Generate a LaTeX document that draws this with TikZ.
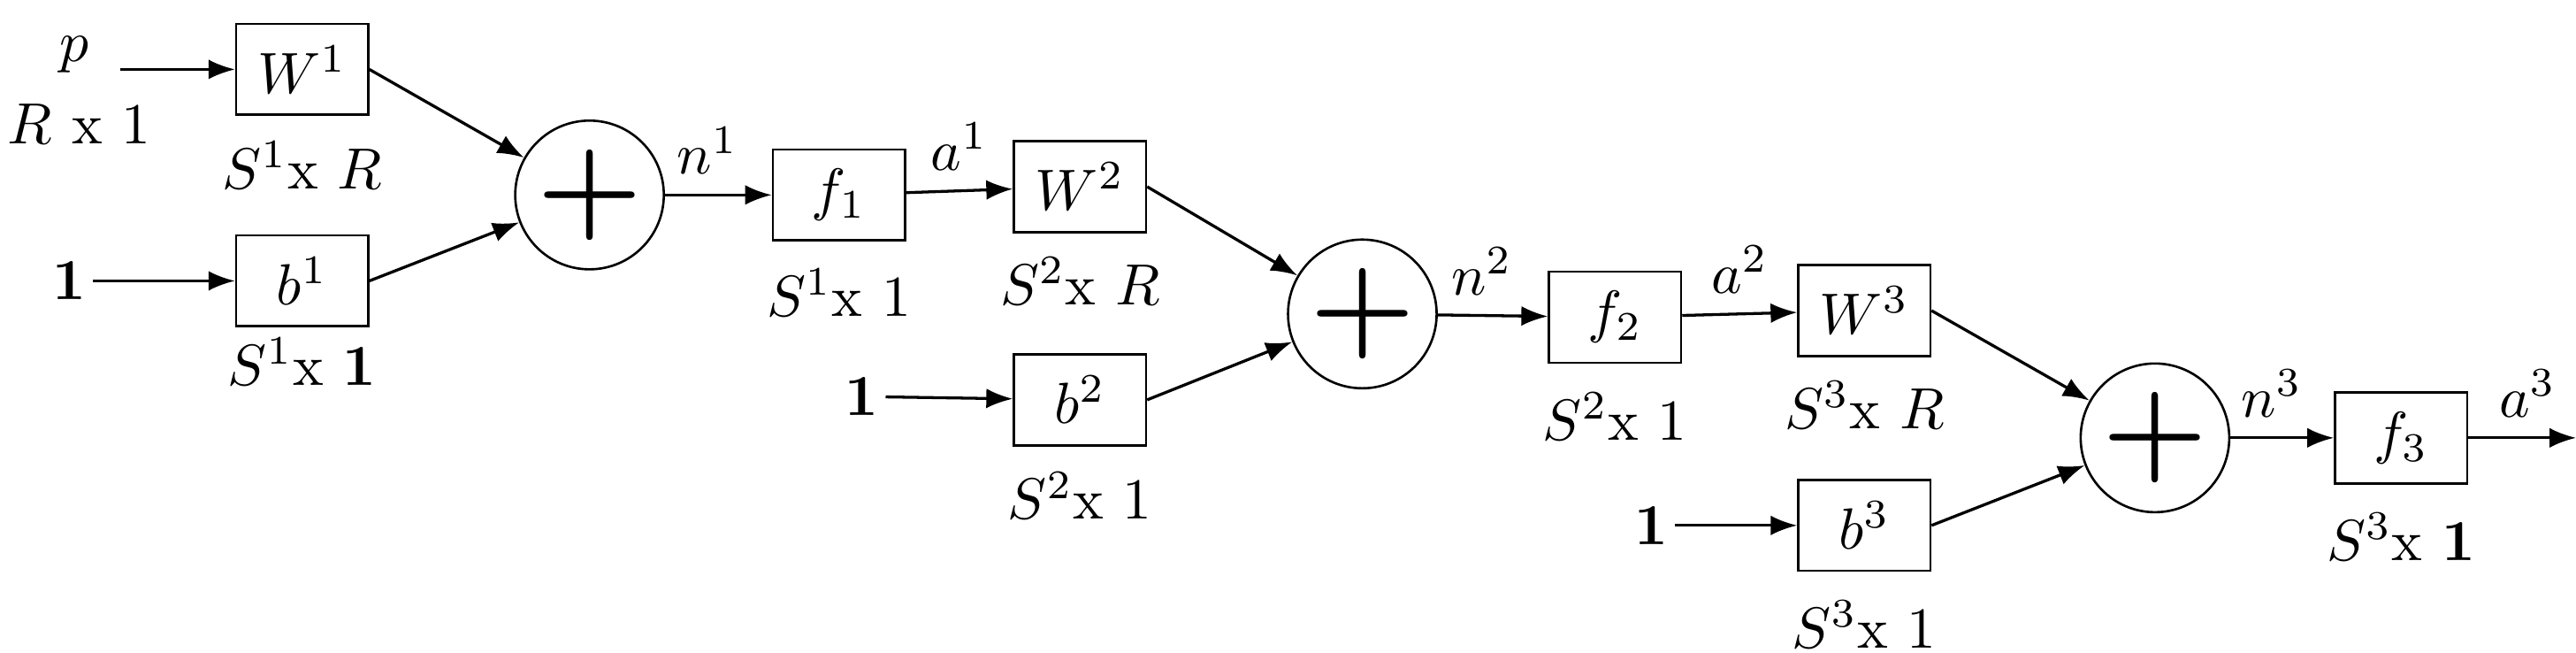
\documentclass[tikz,border=0pt]{standalone}
\usetikzlibrary{arrows.meta}
\begin{document}
\begin{tikzpicture}[
    blk/.style={draw, minimum width=0.8cm, minimum height=0.55cm, inner sep=0pt},
    sum/.style={draw, circle, minimum size=0.9cm, inner sep=0pt, font=\huge\bfseries},
    con/.style={-{Latex[length=1.6mm,width=1.2mm]}, line width=0.5pt},
    lbl/.style={inner sep=1pt}
]
    \useasboundingbox (0,0) rectangle (15.6,3.95);
    % layer 1
    \node[lbl] (p) at (0.45,3.62) {$p$};
    \node[lbl] at (0.48,3.2) {$R$ x 1};
    \node[blk] (W1) at (1.83,3.53) {$W^1$};
    \node[lbl] at (1.83,2.95) {$S^1$x $R$};
    \node[lbl] (i1) at (0.42,2.25) {\textbf{1}};
    \node[blk] (b1) at (1.83,2.25) {$b^1$};
    \node[lbl] at (1.83,1.76) {$S^1$x \textbf{1}};
    \node[sum] (s1) at (3.57,2.77) {+};
    \node[blk] (f1) at (5.08,2.77) {$f_1$};
    \node[lbl] at (5.08,2.18) {$S^1$x 1};
    % layer 2
    \node[blk] (W2) at (6.54,2.82) {$W^2$};
    \node[lbl] at (6.54,2.25) {$S^2$x $R$};
    \node[lbl] (i2) at (5.22,1.55) {\textbf{1}};
    \node[blk] (b2) at (6.54,1.53) {$b^2$};
    \node[lbl] at (6.54,0.95) {$S^2$x 1};
    \node[sum] (s2) at (8.25,2.05) {+};
    \node[blk] (f2) at (9.78,2.03) {$f_2$};
    \node[lbl] at (9.78,1.43) {$S^2$x 1};
    % layer 3
    \node[blk] (W3) at (11.29,2.07) {$W^3$};
    \node[lbl] at (11.29,1.5) {$S^3$x $R$};
    \node[lbl] (i3) at (10.0,0.77) {\textbf{1}};
    \node[blk] (b3) at (11.29,0.77) {$b^3$};
    \node[lbl] at (11.29,0.17) {$S^3$x 1};
    \node[sum] (s3) at (13.05,1.3) {+};
    \node[blk] (f3) at (14.54,1.3) {$f_3$};
    \node[lbl] at (14.54,0.7) {$S^3$x \textbf{1}};
    \coordinate (out) at (15.6,1.3);
    % connectors
    \draw[con] ([xshift=1.5mm]p.east |- W1.west) -- (W1);
    \draw[con] (i1) -- (b1);
    \draw[con] (W1.east) -- (s1);
    \draw[con] (b1.east) -- (s1);
    \draw[con] (s1) -- node[above, pos=0.4] {$n^1$} (f1);
    \draw[con] (f1) -- node[above] {$a^1$} (W2);
    \draw[con] (i2) -- (b2);
    \draw[con] (W2.east) -- (s2);
    \draw[con] (b2.east) -- (s2);
    \draw[con] (s2) -- node[above, pos=0.4] {$n^2$} (f2);
    \draw[con] (f2) -- node[above] {$a^2$} (W3);
    \draw[con] (i3) -- (b3);
    \draw[con] (W3.east) -- (s3);
    \draw[con] (b3.east) -- (s3);
    \draw[con] (s3) -- node[above, pos=0.4] {$n^3$} (f3);
    \draw[con] (f3) -- node[above, pos=0.55] {$a^3$} (out);
\end{tikzpicture}
\end{document}
